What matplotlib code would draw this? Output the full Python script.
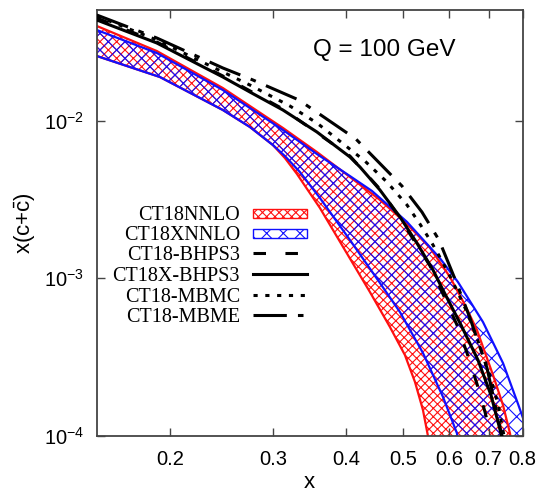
import numpy as np
import matplotlib
matplotlib.use("Agg")
import matplotlib.pyplot as plt
from matplotlib.patches import Rectangle
from matplotlib.lines import Line2D
from matplotlib.ticker import NullLocator, FixedLocator, FixedFormatter

plt.rcParams['font.family'] = ['Liberation Sans', 'DejaVu Sans']
plt.rcParams['mathtext.fontset'] = 'custom'
plt.rcParams['mathtext.rm'] = 'Liberation Sans'
plt.rcParams['mathtext.it'] = 'Liberation Sans:italic'
plt.rcParams['lines.scale_dashes'] = False
plt.rcParams['hatch.linewidth'] = 0.8

# CT18NNLO band (red)
nnlo_up_x = [0.1501, 0.1900, 0.2463, 0.3119, 0.3564, 0.4058, 0.4566, 0.5077, 0.5558, 0.6012, 0.6377, 0.6685, 0.7119, 0.7405, 0.7611, 0.7671]
nnlo_up_y = [0.03980, 0.02762, 0.01609, 0.00898, 0.00632, 0.00439, 0.00314, 0.00221, 0.00156, 0.00102, 0.000677, 0.000470, 0.000244, 0.000157, 0.000104, 0.0000877]
nnlo_lo_x = [0.1501, 0.1923, 0.2463, 0.2739, 0.2998, 0.3143, 0.3295, 0.3607, 0.3979, 0.4390, 0.4749, 0.5037, 0.5240, 0.5407, 0.5514, 0.5558]
nnlo_lo_y = [0.02568, 0.01890, 0.01167, 0.00911, 0.00700, 0.00579, 0.00459, 0.00279, 0.00151, 0.000818, 0.000491, 0.000326, 0.000220, 0.000146, 0.000100, 0.0000815]

# CT18XNNLO band (blue)
xnnlo_up_x = [0.1501, 0.1900, 0.2463, 0.3119, 0.3564, 0.4058, 0.4425, 0.5077, 0.5780, 0.6204, 0.6845, 0.7405, 0.7854, 0.8010, 0.8233]
xnnlo_up_y = [0.03754, 0.02683, 0.01563, 0.00872, 0.00614, 0.00445, 0.00358, 0.00228, 0.00134, 0.000947, 0.000528, 0.000290, 0.000160, 0.000130, 0.0000943]
xnnlo_lo_x = [0.1501, 0.1923, 0.2463, 0.2739, 0.2998, 0.3143, 0.3334, 0.3607, 0.4058, 0.4566, 0.4939, 0.5407, 0.5849, 0.6180, 0.6229]
xnnlo_lo_y = [0.02568, 0.01890, 0.01167, 0.00911, 0.00700, 0.00596, 0.00472, 0.00323, 0.00175, 0.000934, 0.000611, 0.000336, 0.000177, 0.000104, 0.0000815]

# CT18-BHPS3
bhps_x = [0.1501, 0.1900, 0.2463, 0.3119, 0.4058, 0.4566, 0.4939, 0.5558, 0.5849, 0.6180, 0.6428, 0.6685, 0.6899, 0.7063, 0.7119]
bhps_y = [0.04472, 0.03150, 0.01918, 0.01185, 0.00596, 0.00368, 0.00241, 0.00120, 0.000795, 0.000506, 0.000336, 0.000214, 0.000142, 0.000100, 0.0000839]

# CT18X-BHPS3
xbhps_x = [0.1501, 0.1900, 0.2463, 0.2739, 0.3119, 0.3564, 0.4058, 0.4221, 0.4566, 0.4939, 0.5281, 0.5624, 0.5849, 0.6278, 0.6712, 0.7063, 0.7347, 0.7405]
xbhps_y = [0.04344, 0.03105, 0.01890, 0.01518, 0.01167, 0.00847, 0.00588, 0.00508, 0.00363, 0.00245, 0.00167, 0.00113, 0.000843, 0.000506, 0.000303, 0.000182, 0.000104, 0.0000815]

# CT18-MBMC
mbmc_x = [0.1501, 0.1900, 0.2463, 0.2739, 0.3205, 0.3564, 0.4304, 0.4693, 0.5077, 0.5343, 0.5602, 0.5780, 0.6060, 0.6428, 0.6685, 0.7036, 0.7260, 0.7434, 0.7493]
mbmc_y = [0.04605, 0.03244, 0.02033, 0.01681, 0.01238, 0.00966, 0.00554, 0.00408, 0.00292, 0.00221, 0.00167, 0.00136, 0.000975, 0.000611, 0.000418, 0.000240, 0.000160, 0.000100, 0.0000815]

# CT18-MBME
mbme_x = [0.1501, 0.1900, 0.2463, 0.2772, 0.3321, 0.4155, 0.4978, 0.5386, 0.5758, 0.6132, 0.6504, 0.6954, 0.7375, 0.7434]
mbme_y = [0.04672, 0.03340, 0.02156, 0.01809, 0.01351, 0.00764, 0.00385, 0.00263, 0.00175, 0.000990, 0.000560, 0.000270, 0.000100, 0.0000815]

xticks = [0.2, 0.3, 0.4, 0.5, 0.6, 0.7, 0.8]
xticklabels = ['0.2', '0.3', '0.4', '0.5', '0.6', '0.7', '0.8']
yticks = [1e-4, 1e-3, 1e-2]

labels = ['CT18NNLO', 'CT18XNNLO', 'CT18-BHPS3', 'CT18X-BHPS3', 'CT18-MBMC', 'CT18-MBME']

red = '#ff1010'
blue = '#1010ff'
dash_bhps = (0, (9, 14))
dash_mbmc = (0, (3, 5.5))
dash_mbme = (0, (24, 8, 4, 8))

fig = plt.figure(figsize=(5.37, 4.96), dpi=100)
ax = fig.add_axes([0.180, 0.121, 0.7933, 0.8589])
ax.set_xscale('log')
ax.set_yscale('log')

# bands
def band(ux, uy, lx, ly, col, hatch):
    px = list(ux) + list(lx)[::-1]
    py = list(uy) + list(ly)[::-1]
    ax.fill(px, py, facecolor='none', edgecolor=col, hatch=hatch, linewidth=0, zorder=1)
    ax.plot(ux, uy, color=col, lw=1.6, zorder=2)
    ax.plot(lx, ly, color=col, lw=1.6, zorder=2)

band(nnlo_up_x, nnlo_up_y, nnlo_lo_x, nnlo_lo_y, red, 'xxxx')
band(xnnlo_up_x, xnnlo_up_y, xnnlo_lo_x, xnnlo_lo_y, blue, 'xx')

ax.plot(bhps_x, bhps_y, color='black', lw=2.2, linestyle=dash_bhps, zorder=3)
ax.plot(xbhps_x, xbhps_y, color='black', lw=2.2, zorder=3)
ax.plot(mbmc_x, mbmc_y, color='black', lw=2.2, linestyle=dash_mbmc, zorder=3)
ax.plot(mbme_x, mbme_y, color='black', lw=2.2, linestyle=dash_mbme, zorder=3)

ax.set_xlim(0.15, 0.8)
ax.set_ylim(1e-4, 0.0503)

ax.xaxis.set_major_locator(FixedLocator(xticks))
ax.xaxis.set_major_formatter(FixedFormatter(xticklabels))
ax.xaxis.set_minor_locator(NullLocator())
ax.yaxis.set_major_locator(FixedLocator(yticks))
ax.yaxis.set_minor_locator(NullLocator())
ax.tick_params(which='both', direction='in', top=True, right=True, length=6, width=1,
               labelsize=14.5, color='#444444')
ax.tick_params(axis='x', pad=10)
ax.tick_params(axis='y', pad=9)
for s in ax.spines.values():
    s.set_linewidth(1.3)
    s.set_color('#444444')

ax.set_xlabel('x', fontsize=16, labelpad=2)
ax.set_ylabel(r'x(c+$\bar{\mathrm{c}}$)', fontsize=16, labelpad=4)

ax.text(0.508, 0.892, 'Q = 100 GeV', transform=ax.transAxes, fontsize=17.5,
        ha='left', va='baseline')

# legend, gnuplot style: labels right-aligned, sample on the right
row_y = [0.5227, 0.4758, 0.4289, 0.3796, 0.3310, 0.2840]
tx = 0.3364
sx0, sx1 = 0.367, 0.494
for i, lab in enumerate(labels):
    ax.text(tx, row_y[i] - 0.0155, lab, transform=ax.transAxes, fontsize=14.5,
            family='Liberation Serif', ha='right', va='baseline')
hatches = [(red, 'xxxx'), (blue, 'xx')]
for i, (col, h) in enumerate(hatches):
    ax.add_patch(Rectangle((sx0, row_y[i] - 0.0106), sx1 - sx0, 0.0212, transform=ax.transAxes,
                           facecolor='none', edgecolor=col, hatch=h, lw=1.0, zorder=4))
styles = [dash_bhps, '-', dash_mbmc, dash_mbme]
for j, ls in enumerate(styles):
    yy = row_y[j + 2]
    ax.add_line(Line2D([sx0, sx1], [yy, yy], transform=ax.transAxes, color='black',
                       lw=2.2, linestyle=ls, zorder=4))

fig.savefig('out.png', dpi=100)
